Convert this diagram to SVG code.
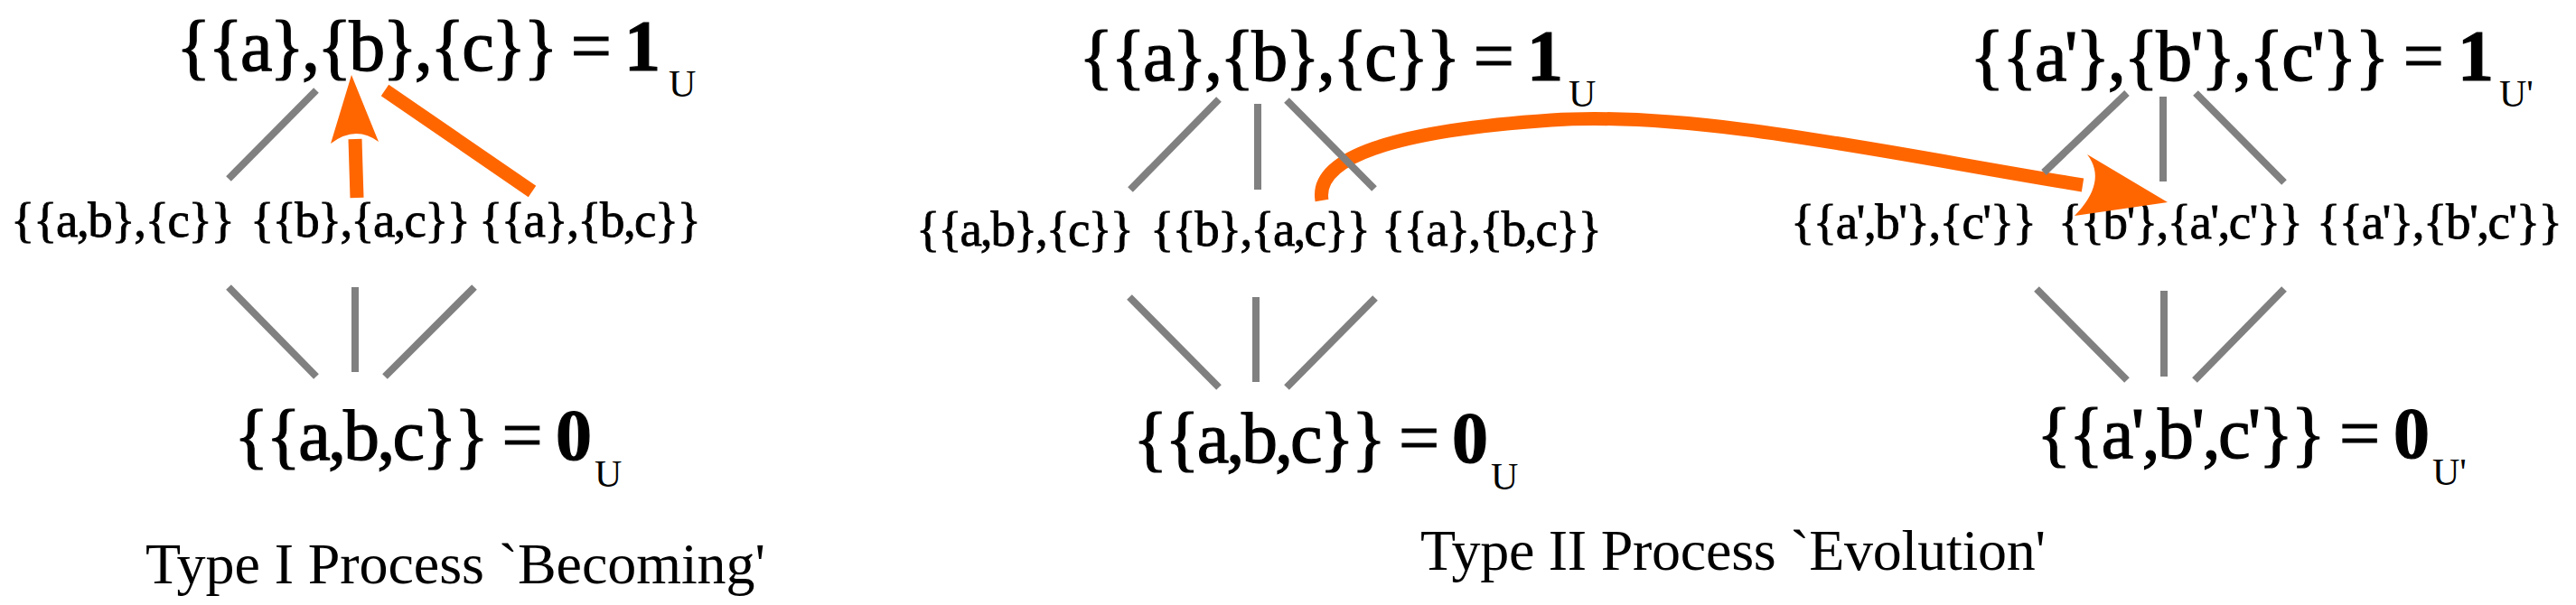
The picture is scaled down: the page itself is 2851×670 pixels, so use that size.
<svg xmlns="http://www.w3.org/2000/svg" width="2851" height="670" viewBox="0 0 2851 670">
<style>
  .t { font-family: "Liberation Serif", "Times New Roman", serif; fill: #000; }
  .big { font-size: 80px; stroke: #000; stroke-width: 1.2; }
  .mid { font-size: 55px; stroke: #000; stroke-width: 0.8; }
  .sub { font-size: 42px; }
  .cap { font-size: 64px; }
  .b { font-weight: bold; }
  .g { stroke: #808080; stroke-width: 8; fill: none; stroke-linecap: butt; }
  .o { stroke: #ff6600; stroke-width: 15; fill: none; stroke-linecap: butt; }
  .oh { fill: #ff6600; stroke: none; }
</style>
<rect x="0" y="0" width="2851" height="670" fill="#fff"/>

<g id="nodes">
  <!-- Diagram A: Type I -->
  <g id="A-top">
    <text class="t big" x="195" y="78" textLength="536">{{a},{b},{c}} = <tspan class="b">1</tspan></text>
    <text class="t sub" x="740" y="107">U</text>
  </g>
  <g id="A-ab-c"><text class="t mid" x="12" y="262" textLength="248">{{a,b},{c}}</text></g>
  <g id="A-b-ac"><text class="t mid" x="277" y="262" textLength="244">{{b},{a,c}}</text></g>
  <g id="A-a-bc"><text class="t mid" x="530" y="262" textLength="246">{{a},{b,c}}</text></g>
  <g id="A-bot">
    <text class="t big" x="259" y="509" textLength="396">{{a,b,c}} = <tspan class="b">0</tspan></text>
    <text class="t sub" x="658" y="539">U</text>
  </g>
  <g id="A-caption"><text class="t cap" x="161" y="646" textLength="686">Type I Process `Becoming'</text></g>

  <!-- Diagram B -->
  <g id="B-top">
    <text class="t big" x="1194" y="89" textLength="536">{{a},{b},{c}} = <tspan class="b">1</tspan></text>
    <text class="t sub" x="1736" y="118">U</text>
  </g>
  <g id="B-ab-c"><text class="t mid" x="1014" y="272" textLength="241">{{a,b},{c}}</text></g>
  <g id="B-b-ac"><text class="t mid" x="1273" y="272" textLength="244">{{b},{a,c}}</text></g>
  <g id="B-a-bc"><text class="t mid" x="1529" y="272" textLength="244">{{a},{b,c}}</text></g>
  <g id="B-bot">
    <text class="t big" x="1254" y="512" textLength="393">{{a,b,c}} = <tspan class="b">0</tspan></text>
    <text class="t sub" x="1650" y="542">U</text>
  </g>
  <g id="B-caption"><text class="t cap" x="1572" y="631" textLength="692">Type II Process `Evolution'</text></g>

  <!-- Diagram C -->
  <g id="C-top">
    <text class="t big" x="2180" y="89" textLength="580">{{a'},{b'},{c'}} = <tspan class="b">1</tspan></text>
    <text class="t sub" x="2766" y="118">U'</text>
  </g>
  <g id="C-ab-c"><text class="t mid" x="1982" y="264" textLength="272">{{a',b'},{c'}}</text></g>
  <g id="C-b-ac"><text class="t mid" x="2278" y="264" textLength="271">{{b'},{a',c'}}</text></g>
  <g id="C-a-bc"><text class="t mid" x="2564" y="264" textLength="272">{{a'},{b',c'}}</text></g>
  <g id="C-bot">
    <text class="t big" x="2254" y="507" textLength="435">{{a',b',c'}} = <tspan class="b">0</tspan></text>
    <text class="t sub" x="2692" y="537">U'</text>
  </g>
</g>

<g id="connectors">
  <!-- evolution arrow (under gray lines) -->
  <path class="o" d="M 1463 222 C 1455 175 1540 145 1717 133 C 1880 122 2100 172 2305 205"/>

  <!-- A lattice -->
  <line class="g" x1="350" y1="100" x2="253" y2="198"/>
  <line class="g" x1="253" y1="318" x2="350" y2="417"/>
  <line class="g" x1="393" y1="318" x2="393" y2="412"/>
  <line class="g" x1="525" y1="318" x2="426" y2="417"/>
  <line class="o" x1="426" y1="100" x2="589" y2="212"/>
  <line class="o" x1="395" y1="219" x2="393" y2="154" stroke-width="17"/>
  <path class="oh" d="M 389 83 L 419 157 Q 393.5 138 366 159 Z"/>

  <!-- B lattice -->
  <line class="g" x1="1349" y1="110" x2="1251" y2="210"/>
  <line class="g" x1="1392" y1="115" x2="1392" y2="210"/>
  <line class="g" x1="1424" y1="111" x2="1521" y2="209"/>
  <line class="g" x1="1250" y1="329" x2="1349" y2="429"/>
  <line class="g" x1="1390" y1="329" x2="1390" y2="423"/>
  <line class="g" x1="1522" y1="330" x2="1424" y2="429"/>

  <!-- C lattice -->
  <line class="g" x1="2354" y1="103" x2="2262" y2="191"/>
  <line class="g" x1="2394" y1="107" x2="2394" y2="201"/>
  <line class="g" x1="2430" y1="103" x2="2528" y2="202"/>
  <line class="g" x1="2254" y1="320" x2="2354" y2="421"/>
  <line class="g" x1="2395" y1="322" x2="2395" y2="417"/>
  <line class="g" x1="2528" y1="320" x2="2429" y2="421"/>

  <!-- evolution arrowhead -->
  <path class="oh" d="M 2399 224 L 2310 171 Q 2333 201 2296 239 Z"/>
</g>
</svg>
